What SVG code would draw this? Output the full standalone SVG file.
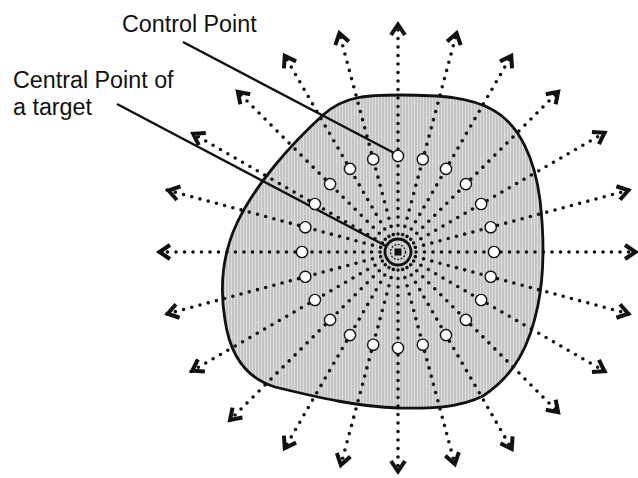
<svg xmlns="http://www.w3.org/2000/svg" width="638" height="478" viewBox="0 0 638 478">
<style>
.lbl{font-family:"Liberation Sans",Arial,Helvetica,sans-serif;font-size:23.3px;fill:#111}
.ray{fill:none;stroke:#111;stroke-width:3.6;stroke-linecap:round;stroke-dasharray:0 8.5;marker-end:url(#chev)}
.cp{fill:#fff;stroke:#111;stroke-width:1.4}
.lead{stroke:#111;stroke-width:2.4;fill:none}
</style>
<defs>
<pattern id="tex" width="3" height="3" patternUnits="userSpaceOnUse">
<rect width="3" height="3" fill="#c2c2c2"/>
<rect x="0" width="1" height="3" fill="#e2e2e2"/>
<rect y="1" width="3" height="0.6" fill="#d0d0d0"/>
</pattern>
<marker id="chev" viewBox="-16 -10 18 20" refX="0" refY="0" markerWidth="18" markerHeight="20" markerUnits="userSpaceOnUse" orient="auto" overflow="visible">
<path d="M-12,-7 L-1.5,0 L-12,7" fill="none" stroke="#111" stroke-width="4" stroke-linejoin="miter"/>
</marker>
</defs>
<rect width="638" height="478" fill="#fff"/>
<g id="target">
<path d="M400,95 C440,95 470,97 493,110 C520,125 535,160 540,200 C544,235 544,275 538,305 C530,345 515,375 483,396 C455,410 420,408 398,408 C360,407 320,398 275,387 C245,378 230,355 225,320 C220,290 222,255 237,223 C255,185 290,145 323,115 C345,95 370,95 400,95 Z" fill="url(#tex)" stroke="#111" stroke-width="2.8"/>
</g>
<g id="connectors">
<path class="ray" d="M416,252 L637,252"/>
<path class="ray" d="M415.39,247.34 L629.8,189.9"/>
<path class="ray" d="M413.59,243 L605.8,132"/>
<path class="ray" d="M410.73,239.27 L559.2,90.8"/>
<path class="ray" d="M407,236.41 L512,54.5"/>
<path class="ray" d="M402.66,234.61 L457,31.8"/>
<path class="ray" d="M398,234 L398,23"/>
<path class="ray" d="M393.34,234.61 L339,31.8"/>
<path class="ray" d="M389,236.41 L284,54.5"/>
<path class="ray" d="M385.27,239.27 L236.8,90.8"/>
<path class="ray" d="M382.41,243 L191.9,133"/>
<path class="ray" d="M380.61,247.34 L167.1,190.1"/>
<path class="ray" d="M380,252 L158,252"/>
<path class="ray" d="M380.61,256.66 L166.2,314.1"/>
<path class="ray" d="M382.41,261 L191,371.5"/>
<path class="ray" d="M385.27,264.73 L229,421"/>
<path class="ray" d="M389,267.59 L284,449.5"/>
<path class="ray" d="M393.34,269.39 L340.5,466.4"/>
<path class="ray" d="M398,270 L398,473"/>
<path class="ray" d="M402.66,269.39 L455.2,465.5"/>
<path class="ray" d="M407,267.59 L512.5,450.3"/>
<path class="ray" d="M410.73,264.73 L559.2,413.2"/>
<path class="ray" d="M413.59,261 L605.8,372"/>
<path class="ray" d="M415.39,256.66 L629.8,314.1"/>
<line class="lead" x1="183" y1="42" x2="396" y2="154"/>
<line class="lead" x1="117" y1="104" x2="386" y2="246"/>
</g>
<g id="center">
<circle cx="398" cy="252" r="13" fill="none" stroke="#111" stroke-width="2.8"/>
<circle cx="398" cy="252" r="7.5" fill="none" stroke="#111" stroke-width="1.2" stroke-dasharray="2 1.5"/>
<rect x="394.5" y="248.5" width="7" height="7" fill="#111"/>
</g>
<g id="control-points">
<circle class="cp" cx="494" cy="252" r="5.6"/>
<circle class="cp" cx="490.7" cy="227.2" r="5.6"/>
<circle class="cp" cx="481.1" cy="204" r="5.6"/>
<circle class="cp" cx="465.9" cy="184.1" r="5.6"/>
<circle class="cp" cx="446" cy="168.9" r="5.6"/>
<circle class="cp" cx="422.8" cy="159.3" r="5.6"/>
<circle class="cp" cx="398" cy="156" r="5.6"/>
<circle class="cp" cx="373.2" cy="159.3" r="5.6"/>
<circle class="cp" cx="350" cy="168.9" r="5.6"/>
<circle class="cp" cx="330.1" cy="184.1" r="5.6"/>
<circle class="cp" cx="314.9" cy="204" r="5.6"/>
<circle class="cp" cx="305.3" cy="227.2" r="5.6"/>
<circle class="cp" cx="302" cy="252" r="5.6"/>
<circle class="cp" cx="305.3" cy="276.8" r="5.6"/>
<circle class="cp" cx="314.9" cy="300" r="5.6"/>
<circle class="cp" cx="330.1" cy="319.9" r="5.6"/>
<circle class="cp" cx="350" cy="335.1" r="5.6"/>
<circle class="cp" cx="373.2" cy="344.7" r="5.6"/>
<circle class="cp" cx="398" cy="348" r="5.6"/>
<circle class="cp" cx="422.8" cy="344.7" r="5.6"/>
<circle class="cp" cx="446" cy="335.1" r="5.6"/>
<circle class="cp" cx="465.9" cy="319.9" r="5.6"/>
<circle class="cp" cx="481.1" cy="300" r="5.6"/>
<circle class="cp" cx="490.7" cy="276.8" r="5.6"/>
</g>
<g id="labels">
<text class="lbl" x="122" y="32">Control Point</text>
<text class="lbl" x="13" y="88">Central Point of</text>
<text class="lbl" x="13" y="115">a target</text>
</g>
</svg>
